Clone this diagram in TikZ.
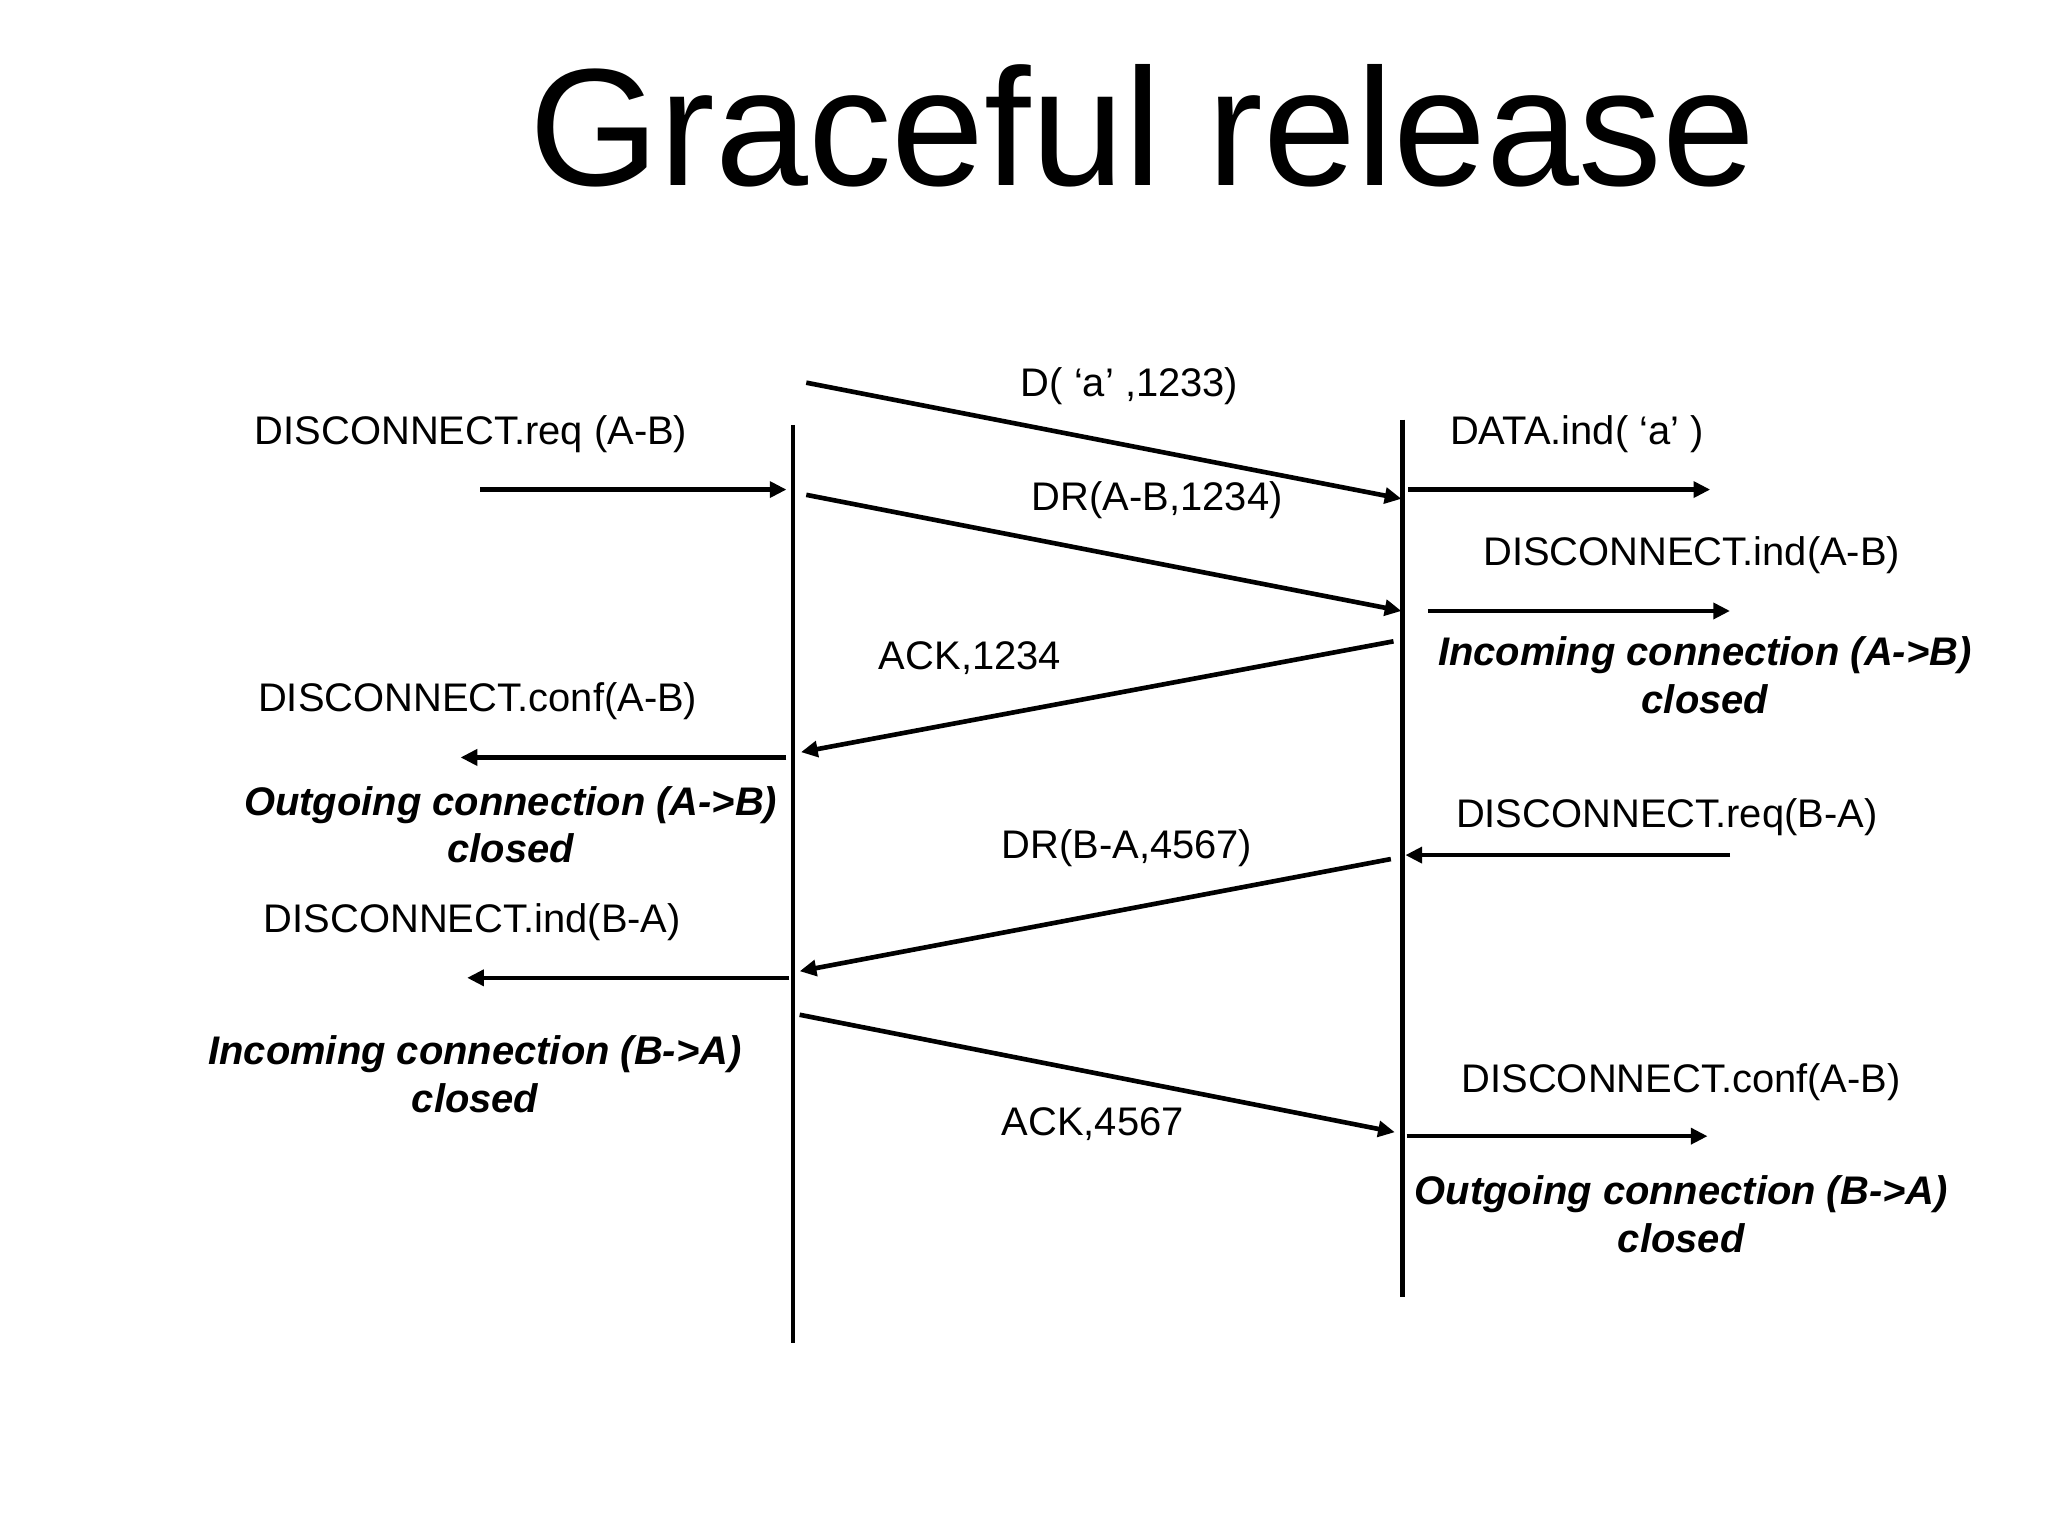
\documentclass[tikz,border=0pt]{standalone}
\usepackage{fontspec}
\setmainfont{Liberation Sans}
\usetikzlibrary{arrows.meta}
\begin{document}
\begin{tikzpicture}[x=0.01cm,y=-0.01cm,
  msg/.style={line width=1pt,-{Triangle[length=3.6pt,width=3.4pt]}},
  life/.style={line width=1pt},
  lbl/.style={font=\fontsize{8.6}{10}\selectfont,inner sep=0},
  st/.style={font=\fontsize{8.6}{10.3}\selectfont\bfseries\itshape,align=center,inner sep=0}]
\useasboundingbox[fill=white] (0,0) rectangle (1552,1164);
\node[font=\fontsize{36}{40}\selectfont] (title) at (866,95) {Graceful release};
% lifelines
\coordinate (la) at (601,322); \coordinate (lb) at (601,1018);
\coordinate (ra) at (1063,318); \coordinate (rb) at (1063,983);
\draw[life] (la) -- (lb);
\draw[life] (ra) -- (rb);
% coordinates
\coordinate (d1s) at (611,290); \coordinate (d1e) at (1062,378);
\coordinate (r1s) at (364,371); \coordinate (r1e) at (596,371);
\coordinate (i1s) at (1067,371); \coordinate (i1e) at (1296,371);
\coordinate (d2s) at (611,375); \coordinate (d2e) at (1062,463);
\coordinate (i2s) at (1082,463); \coordinate (i2e) at (1311,463);
\coordinate (a1s) at (1056,486); \coordinate (a1e) at (607,570);
\coordinate (c1s) at (596,574); \coordinate (c1e) at (349,574);
\coordinate (r2s) at (1311,648); \coordinate (r2e) at (1065,648);
\coordinate (d3s) at (1054,651); \coordinate (d3e) at (606,736);
\coordinate (i3s) at (598,741); \coordinate (i3e) at (354,741);
\coordinate (a2s) at (606,769); \coordinate (a2e) at (1057,858);
\coordinate (c2s) at (1066,861); \coordinate (c2e) at (1294,861);
\draw[msg] (d1s) -- (d1e);
\draw[msg] (r1s) -- (r1e);
\draw[msg] (i1s) -- (i1e);
\draw[msg] (d2s) -- (d2e);
\draw[msg] (i2s) -- (i2e);
\draw[msg] (a1s) -- (a1e);
\draw[msg] (c1s) -- (c1e);
\draw[msg] (r2s) -- (r2e);
\draw[msg] (d3s) -- (d3e);
\draw[msg] (i3s) -- (i3e);
\draw[msg] (a2s) -- (a2e);
\draw[msg] (c2s) -- (c2e);
% labels
\node[lbl] (t1) at (856,293) {D( ‘a’ ,1233)};
\node[lbl] (t2) at (357,329) {DISCONNECT.req (A-B)};
\node[lbl] (t3) at (1195,329) {DATA.ind( ‘a’ )};
\node[lbl] (t4) at (877,379) {DR(A-B,1234)};
\node[lbl] (t5) at (1282,421) {DISCONNECT.ind(A-B)};
\node[st] (t6) at (1292,512) {Incoming connection (A->B)\\closed};
\node[lbl] (t7) at (735,499) {ACK,1234};
\node[lbl] (t8) at (362,531) {DISCONNECT.conf(A-B)};
\node[st] (t9) at (387,625) {Outgoing connection (A->B)\\closed};
\node[lbl] (t10) at (1263,619) {DISCONNECT.req(B-A)};
\node[lbl] (t11) at (854,643) {DR(B-A,4567)};
\node[lbl] (t12) at (358,699) {DISCONNECT.ind(B-A)};
\node[st] (t13) at (360,814) {Incoming connection (B->A)\\closed};
\node[lbl] (t14) at (828,852) {ACK,4567};
\node[lbl] (t15) at (1274,820) {DISCONNECT.conf(A-B)};
\node[st] (t16) at (1274,920) {Outgoing connection (B->A)\\closed};
\end{tikzpicture}
\end{document}
